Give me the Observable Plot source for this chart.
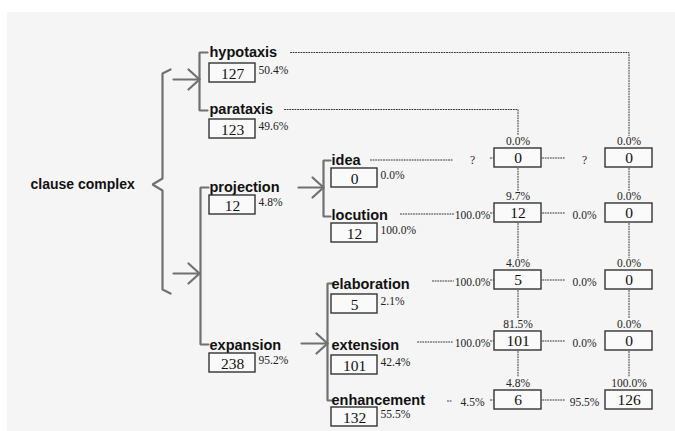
<!DOCTYPE html>
<html>
<head>
<meta charset="utf-8">
<script src="https://cdn.jsdelivr.net/npm/d3@7"></script>
<script src="https://cdn.jsdelivr.net/npm/@observablehq/plot@0.6"></script>
<style>
  html, body { margin: 0; padding: 0; background: #ffffff; }
  #chart svg { display: block; }
</style>
</head>
<body>
<div id="chart"></div>
<script>
// ---------- data ----------
const rootLabel = "clause complex";
const taxisNames = ["hypotaxis", "parataxis"];
const taxisCounts = [127, 123];
const taxisPcts = ["50.4%", "49.6%"];
const typeNames = ["projection", "expansion"];
const typeCounts = [12, 238];
const typePcts = ["4.8%", "95.2%"];
const subNames = ["idea", "locution", "elaboration", "extension", "enhancement"];
const subCounts = [0, 12, 5, 101, 132];
const subPcts = ["0.0%", "100.0%", "2.1%", "42.4%", "55.5%"];
// parataxis column (left) and hypotaxis column (right) of the cross table
const paraCounts = [0, 12, 5, 101, 6];
const paraColPcts = ["0.0%", "9.7%", "4.0%", "81.5%", "4.8%"];
const paraRowPcts = ["?", "100.0%", "100.0%", "100.0%", "4.5%"];
const hypoCounts = [0, 0, 0, 0, 126];
const hypoColPcts = ["0.0%", "0.0%", "0.0%", "0.0%", "100.0%"];
const hypoRowPcts = ["?", "0.0%", "0.0%", "0.0%", "95.5%"];

// ---------- layout (diagram geometry) ----------
const W = 675, H = 431;
const L = {
  rootX: 30, rootY: 184,
  x1: 209, taxisY: [52, 109], taxisBoxTop: [63, 119],
  typeY: [187, 345], typeBoxTop: [195, 353],
  x3: 331, subY: [160, 215, 284, 345, 400], subBoxTop: [168, 223, 294, 355, 407],
  nodeBoxW: 46, boxH: 19,
  colA: 517.5, colB: 628.5, gridBoxW: 47,
  gridTop: [148, 203, 270, 331, 390],
  rowLineStart: [370, 400, 432, 417, 447], rowLineEnd: 453,
  rowPctAX: 472, rowPctBX: 584
};
const gridMid = L.gridTop.map(t => t + L.boxH / 2);

// solid grey structure: brace, brackets, arrows
const solid = [];
function poly(id, pts) { pts.forEach(([x, y]) => solid.push({id, x, y})); }
poly("brace", [[170, 69], [162, 73], [162, 178], [152, 184], [162, 190], [162, 289], [170, 293]]);
function bracket(id, x, y1, y2, tick) { poly(id, [[x + tick, y1], [x, y1], [x, y2], [x + tick, y2]]); }
bracket("b1", 199, L.taxisY[0], L.taxisY[1] + 1, 8);
bracket("b2", 200, L.typeY[0], L.typeY[1] - 1, 8);
bracket("b3", 323, L.subY[0], L.subY[1] + 1, 7);
bracket("b4", 327, L.subY[2] - 1, L.subY[4], 6);
function arrow(id, x1, x2, y) {
  poly(id + "s", [[x1, y], [x2, y]]);
  poly(id + "h", [[x2 - 11, y - 10], [x2, y], [x2 - 11, y + 10]]);
}
arrow("a1", 173, 199, 79);
arrow("a2", 173, 199, 273);
arrow("a3", 298, 323, 187);
arrow("a4", 301, 327, 343);

// dotted connectors
const dots = [];
function dpoly(id, pts) { pts.forEach(([x, y]) => dots.push({id, x, y})); }
dpoly("hypo", [[290, L.taxisY[0]], [L.colB, L.taxisY[0]], [L.colB, L.gridTop[0] - 13]]);
dpoly("para", [[284, L.taxisY[1]], [L.colA, L.taxisY[1]], [L.colA, L.gridTop[0] - 13]]);
subNames.forEach((n, i) => {
  const y = gridMid[i] + (i === 0 ? 2 : 1);
  dpoly("r" + i, [[L.rowLineStart[i], y], [i === 4 ? 452 : L.rowLineEnd, y]]);
  dpoly("t" + i, [[490, gridMid[i]], [493, gridMid[i]]]);
  dpoly("m" + i, [[L.colA + L.gridBoxW / 2 + 1, gridMid[i]], [565, gridMid[i]]]);
  if (i < 4) {
    dpoly("va" + i, [[L.colA, L.gridTop[i] + L.boxH + 1], [L.colA, L.gridTop[i + 1] - 13]]);
    dpoly("vb" + i, [[L.colB, L.gridTop[i] + L.boxH + 1], [L.colB, L.gridTop[i + 1] - 13]]);
  }
});

// node records
const nodes = [];
taxisNames.forEach((n, i) => nodes.push({name: n, count: taxisCounts[i], pct: taxisPcts[i], x: L.x1, y: L.taxisY[i], top: L.taxisBoxTop[i]}));
typeNames.forEach((n, i) => nodes.push({name: n, count: typeCounts[i], pct: typePcts[i], x: L.x1, y: L.typeY[i], top: L.typeBoxTop[i]}));
subNames.forEach((n, i) => nodes.push({name: n, count: subCounts[i], pct: subPcts[i], x: L.x3, y: L.subY[i], top: L.subBoxTop[i]}));

const cells = [];
subNames.forEach((n, i) => {
  cells.push({cx: L.colA, top: L.gridTop[i], count: paraCounts[i], colPct: paraColPcts[i], rowPct: paraRowPcts[i], rx: L.rowPctAX});
  cells.push({cx: L.colB, top: L.gridTop[i], count: hypoCounts[i], colPct: hypoColPcts[i], rowPct: hypoRowPcts[i], rx: L.rowPctBX});
});

const sans = "Liberation Sans, Arial, sans-serif";
const serif = "Liberation Serif, Times New Roman, serif";

const chart = Plot.plot({
  width: W, height: H,
  margin: 0,
  x: {domain: [0, W], range: [0, W], axis: null},
  y: {domain: [0, H], range: [0, H], axis: null},
  style: {background: "#ffffff"},
  marks: [
    Plot.rect([{x1: 7, x2: W, y1: 12, y2: H}], {x1: "x1", x2: "x2", y1: "y1", y2: "y2", fill: "#f5f5f5"}),
    Plot.line(solid, {x: "x", y: "y", z: "id", stroke: "#707070", strokeWidth: 2.2, curve: "linear", strokeLinejoin: "miter"}),
    Plot.line(dots, {x: "x", y: "y", z: "id", stroke: "#333", strokeWidth: 1, strokeDasharray: "1,1.6", curve: "linear"}),
    // root
    Plot.text([rootLabel], {x: () => L.rootX, y: () => L.rootY, text: d => d, textAnchor: "start", lineAnchor: "middle", fontFamily: sans, fontWeight: "bold", fontSize: 14, fill: "#111"}),
    // node labels
    Plot.text(nodes, {x: d => d.x, y: "y", text: "name", textAnchor: "start", lineAnchor: "middle", fontFamily: sans, fontWeight: "bold", fontSize: 14.5, fill: "#111"}),
    Plot.rect(nodes, {x1: d => d.x, x2: d => d.x + L.nodeBoxW, y1: "top", y2: d => d.top + L.boxH, fill: "#fafafa", stroke: "#333", strokeWidth: 1.4}),
    Plot.text(nodes, {x: d => d.x + L.nodeBoxW / 2, y: d => d.top + L.boxH / 2 + 1, text: "count", textAnchor: "middle", lineAnchor: "middle", fontFamily: serif, fontSize: 15.5, fill: "#111"}),
    Plot.text(nodes, {x: d => d.x + L.nodeBoxW + 3, y: d => d.top + 7, text: "pct", textAnchor: "start", lineAnchor: "middle", fontFamily: serif, fontSize: 11.5, fill: "#222"}),
    // cross-table cells
    Plot.rect(cells, {x1: d => d.cx - L.gridBoxW / 2, x2: d => d.cx + L.gridBoxW / 2, y1: "top", y2: d => d.top + L.boxH, fill: "#fafafa", stroke: "#333", strokeWidth: 1.4}),
    Plot.text(cells, {x: "cx", y: d => d.top + L.boxH / 2, text: "count", textAnchor: "middle", lineAnchor: "middle", fontFamily: serif, fontSize: 15.5, fill: "#111"}),
    Plot.text(cells, {x: "cx", y: d => d.top - 7, text: "colPct", textAnchor: "middle", lineAnchor: "middle", fontFamily: serif, fontSize: 11.5, fill: "#222"}),
    Plot.text(cells, {x: "rx", y: d => d.top + L.boxH / 2 + 2, text: "rowPct", textAnchor: "middle", lineAnchor: "middle", fontFamily: serif, fontSize: 11.5, fill: "#222"})
  ]
});
document.getElementById("chart").appendChild(chart);
</script>
</body>
</html>
